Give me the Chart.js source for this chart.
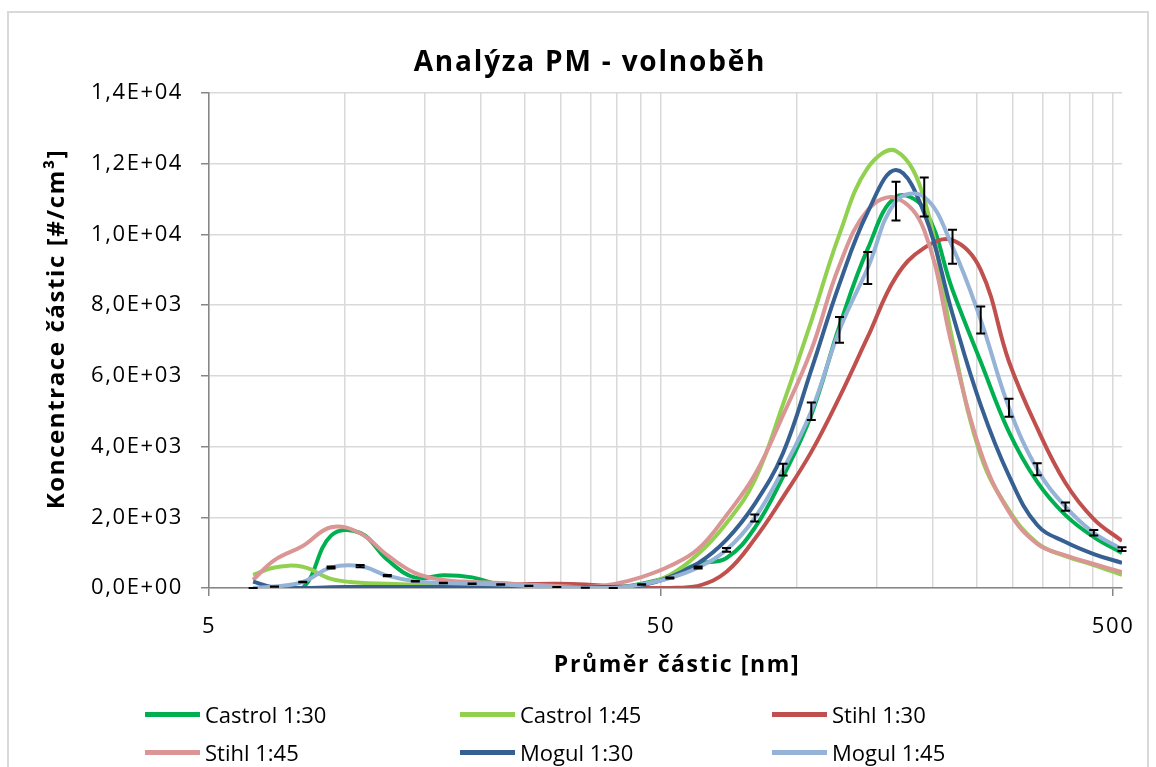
<!DOCTYPE html>
<html><head><meta charset="utf-8">
<script src="https://cdn.jsdelivr.net/npm/chart.js@4.4.1/dist/chart.umd.min.js"></script>
<style>
html,body{margin:0;padding:0;background:#fff;}
#wrap{position:relative;width:1156px;height:767px;overflow:hidden;background:#fff;}
#frame{position:absolute;left:7px;top:11px;width:1142px;height:820px;border:2px solid #d9d9d9;box-sizing:border-box;}
canvas{position:absolute;left:0;top:0;}
.txt{position:absolute;text-align:center;font-family:'Open Sans',sans-serif;font-weight:bold;color:#000;white-space:nowrap;}
#title{left:390px;width:400px;top:40px;height:40px;line-height:40px;font-size:28px;letter-spacing:1.8px;}
#xtitle{left:477px;width:400px;top:648px;height:30px;line-height:30px;font-size:23px;letter-spacing:1.6px;}
#ytitle{left:-145px;width:400px;top:314px;height:30px;line-height:30px;font-size:24px;letter-spacing:1.6px;transform:rotate(-90deg);transform-origin:200px 15px;}
#legend{position:absolute;left:0;top:0;width:1156px;height:767px;pointer-events:none;font-family:'Open Sans',sans-serif;font-size:22px;color:#000;}
.li{position:absolute;display:flex;align-items:center;white-space:nowrap;}
.sw{width:55px;height:5px;margin-right:5px;}
</style></head><body>
<div id="wrap"><div id="frame"></div><canvas id="c" width="1156" height="767"></canvas>
<div id="title" class="txt">Analýza PM - volnoběh</div>
<div id="xtitle" class="txt">Průměr částic [nm]</div>
<div id="ytitle" class="txt">Koncentrace částic [#/cm³]</div>
<div id="legend"></div></div>
<script>
// particle diameters [nm]
const diameters = [6.26, 6.98, 8.06, 9.31, 10.8, 12.4, 14.3, 16.5, 19.1, 22.1, 25.5, 29.4, 34.0, 39.2, 45.3, 52.3,
  60.4, 69.8, 80.6, 93.1, 107.5, 124.1, 143.3, 165.5, 191.1, 220.7, 254.8, 294.3, 339.8, 392.4, 453.2, 523.3];

const castrol130 = [0, 0, 0, 1480, 1560, 800, 290, 360, 300, 90, 50, 20, 10, 0, 120, 330,
  680, 850, 1700, 3150, 4900, 7410, 9590, 11060, 10720, 8430, 6400, 4410, 3000, 2060, 1440, 990];
const castrol145 = [370, 580, 600, 260, 150, 120, 90, 60, 50, 30, 20, 20, 20, 20, 100, 370,
  960, 1840, 3050, 5200, 7550, 10010, 11880, 12360, 11000, 7010, 3750, 2200, 1270, 900, 650, 370];
const stihl130 = [0, 0, 0, 0, 0, 0, 10, 20, 40, 80, 110, 120, 100, 50, 10, 0,
  60, 460, 1390, 2570, 3850, 5400, 7100, 8800, 9620, 9840, 9000, 6400, 4520, 2970, 1950, 1330];
const stihl145 = [230, 790, 1190, 1720, 1550, 930, 420, 230, 170, 140, 90, 60, 30, 110, 310, 620,
  1100, 2060, 3200, 4890, 6730, 9130, 10690, 11030, 10120, 6800, 3850, 2150, 1250, 920, 680, 450];
const mogul130 = [180, 10, 0, 20, 30, 30, 30, 30, 30, 30, 30, 30, 30, 30, 80, 310,
  700, 1370, 2380, 3820, 6170, 8600, 10630, 11820, 10600, 7750, 5170, 3170, 1780, 1300, 960, 710];
const mogul145 = [0, 40, 170, 580, 620, 350, 190, 140, 120, 100, 60, 30, 10, 0, 100, 280,
  580, 1080, 1980, 3350, 5000, 7300, 9050, 10940, 11060, 9650, 7580, 5100, 3360, 2300, 1560, 1100];

const seriesNames = ['Castrol 1:30', 'Castrol 1:45', 'Stihl 1:30', 'Stihl 1:45', 'Mogul 1:30', 'Mogul 1:45'];
const seriesValues = [castrol130, castrol145, stihl130, stihl145, mogul130, mogul145];
const seriesColors = ['#00b050', '#92d050', '#c0504d', '#d99694', '#376092', '#95b3d7'];

const xGridValues = [5, 10, 15, 20, 25, 30, 35, 40, 45, 50, 100, 150, 200, 250, 300, 350, 400, 450, 500];
const xLabelValues = [5, 50, 500];
const yMax = 14000, yStep = 2000;
const errorBarSeries = 5;      // Mogul 1:45 carries the error bars
const errorBarPercent = 5;     // percentage error bars

function sciComma(v) {
  if (v === 0) return '0,0E+00';
  const e = Math.floor(Math.log10(v) + 1e-9);
  const m = v / Math.pow(10, e);
  return m.toFixed(1).replace('.', ',') + 'E+' + String(e).padStart(2, '0');
}

const FONT = "'Open Sans', sans-serif";
const LETTER_SPACING = '1.6px';

const textSpacing = {
  id: 'textSpacing',
  beforeUpdate(chart) { chart.ctx.letterSpacing = LETTER_SPACING; },
  beforeLayout(chart) { chart.ctx.letterSpacing = LETTER_SPACING; },
  beforeDraw(chart) { chart.ctx.letterSpacing = LETTER_SPACING; }
};

const errorBars = {
  id: 'errorBars',
  afterDatasetsDraw(chart) {
    const xs = chart.scales.x, ys = chart.scales.y, ctx = chart.ctx;
    const vals = seriesValues[errorBarSeries];
    ctx.save();
    ctx.strokeStyle = '#000';
    ctx.lineWidth = 2;
    diameters.forEach((d, i) => {
      const v = vals[i], e = v * errorBarPercent / 100;
      const x = xs.getPixelForValue(d);
      const y1 = ys.getPixelForValue(v + e), y2 = ys.getPixelForValue(v - e);
      ctx.beginPath();
      ctx.moveTo(x, y1); ctx.lineTo(x, y2);
      ctx.moveTo(x - 4.5, y1); ctx.lineTo(x + 4.5, y1);
      ctx.moveTo(x - 4.5, y2); ctx.lineTo(x + 4.5, y2);
      ctx.stroke();
    });
    ctx.restore();
  }
};

const datasets = seriesNames.map((name, i) => ({
  label: name,
  data: diameters.map((d, k) => ({ x: d, y: seriesValues[i][k] })),
  borderColor: seriesColors[i],
  backgroundColor: seriesColors[i],
  borderWidth: 4,
  pointRadius: 0,
  tension: 0.4,
  fill: false,
  order: seriesNames.length - i
}));

new Chart(document.getElementById('c'), {
  type: 'line',
  data: { datasets },
  plugins: [textSpacing, errorBars],
  options: {
    responsive: false,
    animation: false,
    layout: { padding: { left: 0, right: 34, top: 93, bottom: 79 } },
    plugins: {
      legend: { display: false },
      tooltip: { enabled: false },
      title: { display: false }
    },
    scales: {
      x: {
        type: 'logarithmic', min: 5, max: 523.3,
        afterBuildTicks: s => { s.ticks = xGridValues.map(v => ({ value: v })); },
        afterFit: s => { s.height = 100; },
        ticks: {
          autoSkip: false, maxRotation: 0, minRotation: 0, color: '#000', padding: 18,
          font: { family: FONT, size: 22 },
          callback: v => xLabelValues.includes(v) ? String(v) : ''
        },
        grid: {
          color: '#d9d9d9', lineWidth: 1.5, tickLength: 8,
          tickColor: c => (c.tick && xLabelValues.includes(c.tick.value)) ? '#868686' : 'rgba(0,0,0,0)'
        },
        border: { color: '#868686', width: 1.5 },
        title: { display: false }
      },
      y: {
        min: 0, max: yMax,
        afterFit: s => { s.width = 209; },
        ticks: {
          stepSize: yStep, color: '#000', padding: 18,
          font: { family: FONT, size: 22 },
          callback: v => sciComma(v)
        },
        grid: { color: '#d9d9d9', lineWidth: 1.5, tickLength: 8, tickColor: '#868686' },
        border: { color: '#868686', width: 1.5 },
        title: { display: false }
      }
    }
  }
});

// legend (3 columns x 2 rows)
const legendCols = [145, 460, 772];
const legendRows = [714, 752];
const leg = document.getElementById('legend');
seriesNames.forEach((name, i) => {
  const el = document.createElement('div');
  el.className = 'li';
  el.style.left = legendCols[i % 3] + 'px';
  el.style.top = (legendRows[Math.floor(i / 3)] - 16) + 'px';
  el.style.height = '32px';
  const sw = document.createElement('span');
  sw.className = 'sw';
  sw.style.background = seriesColors[i];
  const tx = document.createElement('span');
  tx.textContent = name;
  el.appendChild(sw); el.appendChild(tx);
  leg.appendChild(el);
});
</script>
</body></html>
